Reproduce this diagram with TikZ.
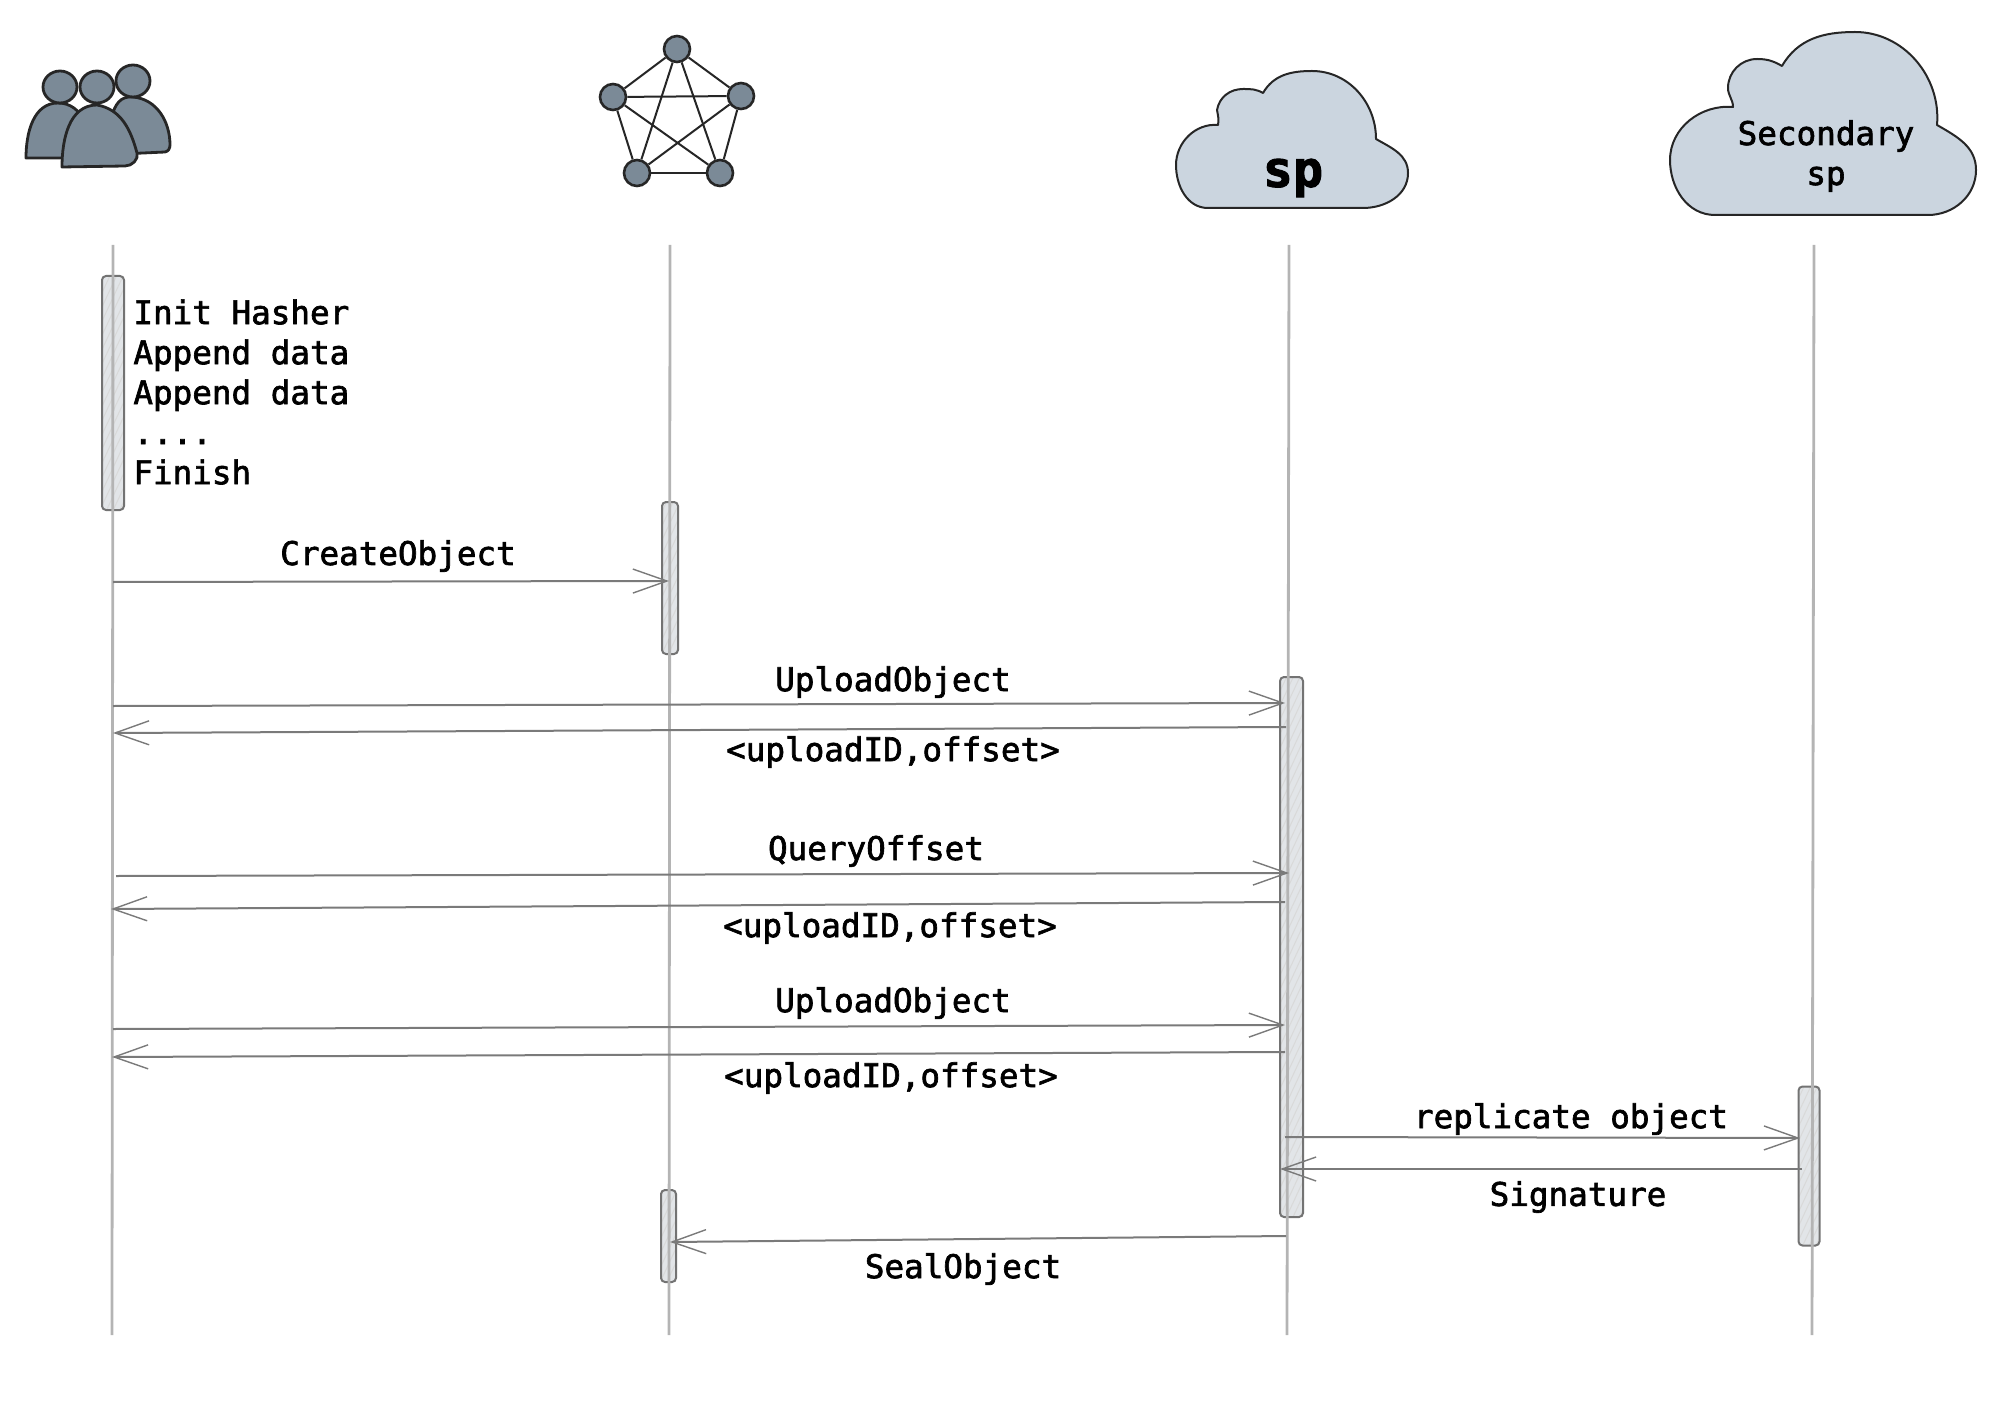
\documentclass[tikz,border=0pt]{standalone}
\usepackage{fontspec}
\setmonofont[FakeBold=2]{DejaVu Sans Mono}
\usetikzlibrary{arrows.meta}
\usetikzlibrary{patterns.meta}

\definecolor{iconfill}{HTML}{7B8A97}
\definecolor{cloudfill}{HTML}{CBD5DF}
\definecolor{barfill}{HTML}{E2E5E8}
\definecolor{lifegray}{HTML}{B4B4B4}
\definecolor{msggray}{HTML}{7A7A7A}

\tikzset{
  msgtext/.style={font=\ttfamily\fontsize{16.3}{20}\selectfont,inner sep=0pt,text=black},
  cloudshape/.style={draw=black!85,line width=1pt,fill=cloudfill,line join=round},
  iconshape/.style={draw=black!85,line width=1.4pt,fill=iconfill,line join=round},
  netnode/.style={circle,draw=black!85,line width=1.3pt,fill=iconfill,minimum size=13pt,inner sep=0pt},
  lifeline/.style={draw=lifegray,line width=1.4pt},
  actbar/.style={rectangle,draw=black!55,line width=1pt,rounded corners=2pt,inner sep=0pt,
    preaction={fill=barfill},pattern={Lines[angle=65,distance=3pt,line width=0.5pt]},pattern color=black!15},
  msg/.style={draw=msggray,line width=1pt,-{Straight Barb[length=17pt,width=12pt,line width=0.7pt]}}
}

\begin{document}
\begin{tikzpicture}[x=0.5pt,y=-0.5pt]

  \useasboundingbox (0,0) rectangle (2000,1406);

  % people
  \draw [iconshape] (100,155) -- (165,152) to[out=10,in=-90] (170,145) to[out=90,in=-5] (133,97) to[out=175,in=60] (100,155) -- cycle;
  \draw [iconshape] (133,81) ellipse (17 and 16);
  \draw [iconshape] (26,158) to[out=90,in=180] (58,103) to[out=0,in=90] (92,158) -- cycle;
  \draw [iconshape] (60,87) ellipse (17 and 16);
  \draw [iconshape] (62,167) to[out=90,in=180] (97,105) to[out=-10,in=105] (137,153) to[out=-75,in=0] (125,166) -- cycle;
  \draw [iconshape] (97,87) ellipse (17 and 16);

  % network
  \node [netnode] (net_top)   at (677,49)  {};
  \node [netnode] (net_left)  at (613,97)  {};
  \node [netnode] (net_right) at (741,96)  {};
  \node [netnode] (net_bl)    at (637,173) {};
  \node [netnode] (net_br)    at (720,173) {};
  \foreach \from/\to in {net_top/net_left,net_top/net_right,net_top/net_bl,net_top/net_br,
                         net_left/net_right,net_left/net_bl,net_left/net_br,
                         net_right/net_bl,net_right/net_br,net_bl/net_br}
    \draw [draw=black!85,line width=1pt] (\from) -- (\to);

  % clouds
  \draw [cloudshape] (1208,208) -- (1363,208) to[out=0,in=-90] (1408,173) to[out=90,in=-30] (1376,139)
    to[out=90,in=0] (1312,71) to[out=180,in=60] (1263,93) to[out=150,in=0] (1243,89)
    to[out=180,in=80] (1217,110) to[out=-80,in=80] (1218,125) to[out=175,in=90] (1176,165)
    to[out=-90,in=180] (1208,208) -- cycle;
  \node [font=\ttfamily\bfseries\fontsize{25}{28}\selectfont,inner sep=0pt] (sp_label) at (1293,178) {sp};

  \draw [cloudshape] (1715,215) -- (1928,215) to[out=0,in=-90] (1976,170) to[out=90,in=-30] (1937,125)
    to[out=85,in=0] (1855,32) to[out=180,in=60] (1782,66) to[out=150,in=0] (1757,59)
    to[out=180,in=90] (1728,88) to[out=-90,in=90] (1733,107) to[out=175,in=90] (1670,160)
    to[out=-90,in=180] (1715,215) -- cycle;
  \node [msgtext,align=center] (secondary_label) at (1826,156) {Secondary\\sp};

  % activation bars
  \node [actbar,minimum width=11pt,minimum height=117pt] (user_act)   at (113,393)    {};
  \node [actbar,minimum width=8pt,minimum height=76pt]   (chain_act)  at (670,578)    {};
  \node [actbar,minimum width=11.5pt,minimum height=270pt] (sp_act)   at (1291.5,947) {};
  \node [actbar,minimum width=10.5pt,minimum height=79.5pt] (sec_act) at (1809,1166)  {};
  \node [actbar,minimum width=7.5pt,minimum height=46pt] (chain_seal) at (668.5,1236) {};

  % lifelines
  \coordinate (user_top) at (113,245);
  \coordinate (user_bot) at (112,1335);
  \coordinate (chain_top) at (670,245);
  \coordinate (chain_bot) at (669,1335);
  \coordinate (sp_top) at (1289,245);
  \coordinate (sp_bot) at (1287,1335);
  \coordinate (sec_top) at (1814,245);
  \coordinate (sec_bot) at (1812,1335);
  \foreach \lane in {user,chain,sp,sec}
    \draw [lifeline] (\lane_top) -- (\lane_bot);

  % local steps
  \node [msgtext,align=left,anchor=west] (hash_steps) at (133,392)
    {Init Hasher\\Append data\\Append data\\....\\Finish};

  % messages
  \coordinate (create_from) at (113,582);
  \coordinate (create_to)   at (669,581);
  \coordinate (up1_from)    at (113,706);
  \coordinate (up1_to)      at (1285,703);
  \coordinate (ack1_from)   at (1286,727);
  \coordinate (ack1_to)     at (113,733);
  \coordinate (query_from)  at (116,876);
  \coordinate (query_to)    at (1289,873);
  \coordinate (ack2_from)   at (1285,902);
  \coordinate (ack2_to)     at (111,909);
  \coordinate (up2_from)    at (113,1029);
  \coordinate (up2_to)      at (1285,1025);
  \coordinate (ack3_from)   at (1285,1052);
  \coordinate (ack3_to)     at (112,1057);
  \coordinate (repl_from)   at (1285,1137);
  \coordinate (repl_to)     at (1800,1138);
  \coordinate (sign_from)   at (1802,1169);
  \coordinate (sign_to)     at (1280,1169);
  \coordinate (seal_from)   at (1286,1236);
  \coordinate (seal_to)     at (670,1242);

  \foreach \step in {create,up1,ack1,query,ack2,up2,ack3,repl,sign,seal}
    \draw [msg] (\step_from) -- (\step_to);

  \node [msgtext] (create_label) at (398,556)  {CreateObject};
  \node [msgtext] (up1_label)    at (893,682)  {UploadObject};
  \node [msgtext] (ack1_label)   at (893,752)  {<uploadID,offset>};
  \node [msgtext] (query_label)  at (876,851)  {QueryOffset};
  \node [msgtext] (ack2_label)   at (890,928)  {<uploadID,offset>};
  \node [msgtext] (up2_label)    at (893,1003) {UploadObject};
  \node [msgtext] (ack3_label)   at (891,1078) {<uploadID,offset>};
  \node [msgtext] (repl_label)   at (1571,1119) {replicate object};
  \node [msgtext] (sign_label)   at (1578,1197) {Signature};
  \node [msgtext] (seal_label)   at (963,1269) {SealObject};
\end{tikzpicture}
\end{document}
